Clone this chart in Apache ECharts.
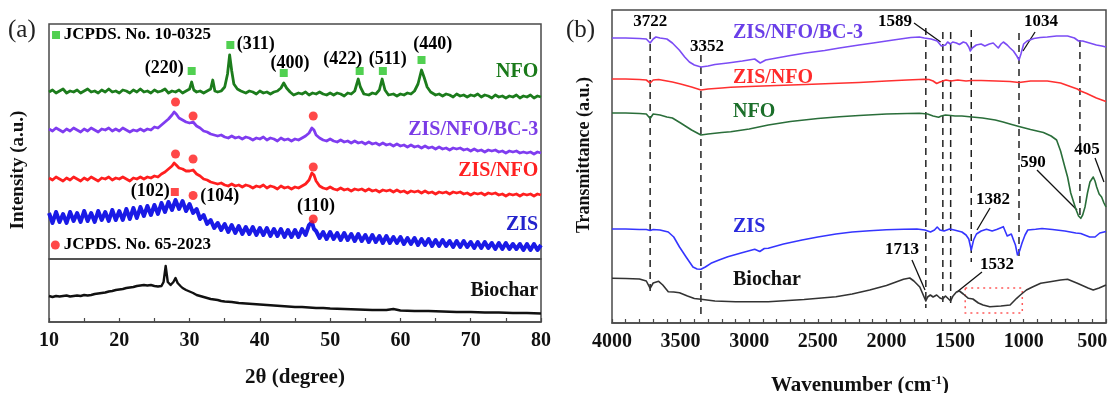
<!DOCTYPE html>
<html><head><meta charset="utf-8">
<script src="https://cdn.jsdelivr.net/npm/echarts@6/dist/echarts.min.js"></script>
<style>html,body{margin:0;padding:0;background:#fff}#c{width:1110px;height:393px}</style>
</head><body><div id="c"></div>
<script>
// ---------- Panel (a): XRD (2θ, intensity a.u.) ----------
const xrdNFO = [[10,167],[10.5,169],[11,166],[11.5,168],[12,170],[12.5,166],[13,168],[13.5,167],[14,169],[14.5,166],[15,168],[15.5,170],[16,167],[16.5,168],[17,166],[17.5,169],[18,167],[18.5,170],[19,167],[19.5,168],[20,166],[20.5,169],[21,168],[21.5,166],[22,169],[22.5,167],[23,170],[23.5,167],[24,168],[24.5,166],[25,169],[25.5,167],[26,168],[26.5,170],[27,166],[27.5,168],[28,167],[28.5,169],[29,166],[29.5,168],[30,170],[30.3,177],[30.6,169],[31,167],[31.5,168],[32,166],[32.5,168],[33,170],[33.3,179],[33.6,168],[34,167],[34.5,168],[35,172],[35.4,185],[35.7,204],[36,188],[36.3,175],[36.8,170],[37.3,168],[38,166],[38.5,168],[39,167],[39.5,165],[40,168],[40.5,166],[41,167],[41.5,165],[42,167],[42.5,168],[43,171],[43.4,176],[43.8,171],[44.3,167],[44.8,164],[45.5,166],[46,165],[46.5,167],[47,164],[47.5,166],[48,165],[48.5,167],[49,165],[49.5,164],[50,166],[50.5,164],[51,166],[51.5,165],[52,163],[52.5,166],[53,165],[53.5,168],[54,180],[54.3,172],[54.8,165],[55.5,164],[56,166],[56.5,165],[57,169],[57.4,180],[57.8,169],[58.3,164],[59,165],[59.5,163],[60,165],[60.5,164],[61,166],[61.5,165],[62,168],[62.5,175],[63,189],[63.4,181],[63.8,172],[64.3,167],[65,164],[65.5,165],[66,163],[66.5,165],[67,164],[67.5,162],[68,165],[68.5,163],[69,164],[69.5,162],[70,164],[70.5,163],[71,165],[71.5,162],[72,164],[72.5,163],[73,161],[73.5,164],[74,162],[74.5,163],[75,161],[75.5,163],[76,162],[76.5,164],[77,161],[77.5,163],[78,162],[78.5,164],[79,161],[79.5,163],[80,162]];
const xrdBC3 = [[10,130],[10.5,128],[11,131],[11.5,129],[12,127],[12.5,130],[13,128],[13.5,131],[14,129],[14.5,127],[15,130],[15.5,128],[16,131],[16.5,129],[17,127],[17.5,130],[18,129],[18.5,131],[19,128],[19.5,130],[20,128],[20.5,131],[21,129],[21.5,127],[22,129],[22.5,128],[23,130],[23.5,128],[24,130],[24.5,129],[25,132],[25.5,131],[26,134],[26.5,137],[27,140],[27.5,144],[27.8,147],[28.1,145],[28.5,141],[29,139],[29.5,137],[30,136],[30.5,137],[31,133],[31.5,131],[32,128],[32.5,127],[33,125],[33.5,124],[34,123],[34.5,124],[35,122],[35.5,121],[36,123],[36.5,121],[37,122],[37.5,120],[38,122],[38.5,121],[39,119],[39.5,121],[40,120],[40.5,122],[41,119],[41.5,121],[42,120],[42.5,118],[43,121],[43.5,119],[44,120],[44.5,118],[45,120],[45.5,119],[46,121],[46.5,123],[47,126],[47.4,131],[47.7,129],[48,124],[48.5,121],[49,119],[49.5,118],[50,120],[50.5,118],[51,117],[51.5,119],[52,117],[52.5,118],[53,116],[53.5,118],[54,116],[54.5,117],[55,115],[55.5,117],[56,115],[56.5,116],[57,114],[57.5,116],[58,114],[58.5,115],[59,113],[59.5,115],[60,113],[60.5,114],[61,112],[61.5,114],[62,112],[62.5,113],[63,111],[63.5,113],[64,111],[64.5,112],[65,110],[65.5,112],[66,110],[66.5,111],[67,109],[67.5,111],[68,110],[68.5,111],[69,109],[69.5,110],[70,108],[70.5,110],[71,108],[71.5,109],[72,107],[72.5,109],[73,108],[73.5,109],[74,107],[74.5,108],[75,106],[75.5,108],[76,107],[76.5,108],[77,106],[77.5,107],[78,106],[78.5,107],[79,105],[79.5,107],[80,106]];
const xrdZISNFO = [[10,81],[10.5,79],[11,82],[11.5,80],[12,78],[12.5,81],[13,79],[13.5,82],[14,80],[14.5,78],[15,81],[15.5,79],[16,82],[16.5,80],[17,78],[17.5,81],[18,80],[18.5,82],[19,79],[19.5,81],[20,80],[20.5,82],[21,80],[21.5,78],[22,81],[22.5,80],[23,82],[23.5,80],[24,82],[24.5,81],[25,83],[25.5,82],[26,85],[26.5,87],[27,90],[27.5,93],[27.8,96],[28.1,94],[28.5,91],[29,90],[29.5,88],[30,88],[30.5,89],[31,85],[31.5,83],[32,80],[32.5,79],[33,77],[33.5,76],[34,75],[34.5,76],[35,74],[35.5,73],[36,75],[36.5,73],[37,74],[37.5,72],[38,74],[38.5,73],[39,71],[39.5,73],[40,72],[40.5,74],[41,71],[41.5,73],[42,72],[42.5,70],[43,73],[43.5,71],[44,72],[44.5,70],[45,72],[45.5,71],[46,73],[46.5,75],[47,79],[47.4,86],[47.7,84],[48,78],[48.5,73],[49,71],[49.5,70],[50,72],[50.5,70],[51,69],[51.5,71],[52,69],[52.5,70],[53,68],[53.5,70],[54,69],[54.5,70],[55,68],[55.5,70],[56,68],[56.5,69],[57,67],[57.5,69],[58,68],[58.5,69],[59,67],[59.5,69],[60,67],[60.5,68],[61,66],[61.5,68],[62,67],[62.5,68],[63,66],[63.5,68],[64,66],[64.5,67],[65,65],[65.5,67],[66,66],[66.5,67],[67,65],[67.5,67],[68,66],[68.5,67],[69,65],[69.5,66],[70,64],[70.5,66],[71,65],[71.5,66],[72,64],[72.5,66],[73,65],[73.5,66],[74,64],[74.5,65],[75,63],[75.5,65],[76,64],[76.5,65],[77,63],[77.5,65],[78,64],[78.5,65],[79,63],[79.5,65],[80,64]];
const xrdZIS = [[10,46],[10.5,36],[11,47],[11.5,37],[12,45],[12.5,36],[13,47],[13.5,38],[14,46],[14.5,37],[15,48],[15.5,38],[16,46],[16.5,37],[17,48],[17.5,39],[18,47],[18.5,38],[19,49],[19.5,39],[20,48],[20.5,39],[21,50],[21.5,40],[22,51],[22.5,41],[23,52],[23.5,43],[24,53],[24.5,44],[25,54],[25.5,45],[26,56],[26.5,47],[27,57],[27.5,49],[28,59],[28.5,50],[29,58],[29.5,48],[30,55],[30.5,46],[31,50],[31.5,40],[32,44],[32.5,35],[33,39],[33.5,31],[34,36],[34.5,29],[35,35],[35.5,27],[36,34],[36.5,26],[37,33],[37.5,25],[38,32],[38.5,25],[39,32],[39.5,24],[40,31],[40.5,24],[41,31],[41.5,23],[42,30],[42.5,23],[43,30],[43.5,22],[44,29],[44.5,22],[45,29],[45.5,22],[46,30],[46.5,24],[47,34],[47.4,37],[47.7,30],[48,28],[48.5,21],[49,27],[49.5,20],[50,27],[50.5,20],[51,26],[51.5,19],[52,26],[52.5,19],[53,25],[53.5,18],[54,25],[54.5,18],[55,24],[55.5,17],[56,24],[56.5,17],[57,23],[57.5,16],[58,23],[58.5,16],[59,22],[59.5,16],[60,22],[60.5,15],[61,21],[61.5,15],[62,21],[62.5,14],[63,20],[63.5,14],[64,20],[64.5,13],[65,19],[65.5,13],[66,19],[66.5,13],[67,18],[67.5,12],[68,18],[68.5,12],[69,18],[69.5,12],[70,17],[70.5,11],[71,17],[71.5,11],[72,17],[72.5,11],[73,16],[73.5,10],[74,16],[74.5,10],[75,16],[75.5,10],[76,15],[76.5,10],[77,15],[77.5,9],[78,15],[78.5,9],[79,15],[79.5,9],[80,14]];
const xrdBiochar = [[10,26],[10.5,25],[11,26],[11.5,25.5],[12,26],[12.5,26.5],[13,25.5],[13.5,26],[14,26.5],[14.5,26],[15,27],[15.5,26.5],[16,27],[16.5,28],[17,28.5],[17.5,29],[18,29.5],[18.5,30.5],[19,31],[19.5,32],[20,32.5],[20.5,33],[21,34],[21.5,34.5],[22,35],[22.5,36],[23,36.5],[23.5,37],[24,36.5],[24.5,37],[25,36],[25.5,35.5],[26,36],[26.3,40],[26.6,56],[26.9,40],[27.3,37],[27.7,40],[28,44],[28.3,39],[28.7,36],[29,34],[29.5,32],[30,30.5],[30.5,29],[31,27],[31.5,26],[32,25],[32.5,24],[33,23],[33.5,22.5],[34,22],[34.5,21],[35,20.5],[36,20],[37,19],[38,18.5],[39,18],[40,17.5],[41,17],[42,16.5],[43,16],[44,15.5],[45,15],[46,15],[47,14.5],[48,14],[49,14],[50,13.5],[52,13],[54,12.5],[56,12],[58,12],[59,13],[60,11.5],[62,11],[64,11],[66,10.5],[68,10],[70,10],[72,9.5],[74,9.5],[76,9],[78,9],[80,8.5]];
// reference-pattern markers
const nfoRefPeaks = [[30.3,188],[35.8,214],[43.4,186],[54.2,188],[57.5,188],[63.0,199]];
const zisRefPeaksBC3 = [[28.0,157],[30.5,143],[47.6,143]];
const zisRefPeaksZN = [[28.0,105],[30.5,100],[47.6,92]];
const zisRefPeaksZIS = [[30.5,63.5],[47.6,40]];
const zisRefSquare = [[27.9,67]];
const nfoLegendMark = [[11.0,224]];
const zisLegendMark = [[10.9,14]];
const hklLabelsNFO = [['(220)',26.4,191],['(311)',39.4,215],['(400)',44.3,196],['(422)',51.8,199.5],['(511)',58.2,199.5],['(440)',64.6,215]];
const hklLabelsZIS = [['(102)',24.4,68],['(104)',34.3,63],['(110)',48.0,53]];
const jcpdsTexts = [['JCPDS. No. 10-0325',12.1,224],['JCPDS. No. 65-2023',12.1,14]];
const xTicksA = [10,20,30,40,50,60,70,80];

// ---------- Panel (b): FTIR (wavenumber, transmittance a.u.) ----------
const ftirBC3 = [[4000,285],[3900,285],[3800,284.5],[3750,284],[3722,280],[3700,284],[3680,286],[3650,285],[3600,284],[3560,280],[3510,273],[3470,266],[3436,261],[3400,258],[3352,256],[3300,257],[3250,258.5],[3156,260],[3050,262],[2960,264],[2920,260],[2880,263],[2800,265],[2700,267.5],[2589,270],[2450,272.5],[2343,275],[2200,278],[2097,280],[1950,283],[1822,285.5],[1760,286],[1724,285],[1675,284],[1630,282],[1600,277],[1589,275],[1570,278],[1554,281],[1535,279],[1517,281],[1490,280],[1468,278.5],[1440,281],[1419,280],[1400,276],[1389,272],[1375,275],[1345,278],[1310,279],[1283,277],[1250,279],[1222,280],[1200,277],[1185,275],[1165,279],[1148,281],[1120,278],[1099,275],[1075,272],[1050,267],[1034,263],[1020,269],[1000,279],[975,282],[926,284.5],[880,285.5],[828,286],[760,287],[680,287],[630,285],[600,282],[590,281],[570,282],[520,280],[470,278],[430,277],[400,276]];
const ftirZISNFO = [[4000,244],[3900,244],[3800,243.5],[3750,243],[3722,240],[3700,243],[3690,245],[3660,243.5],[3600,242],[3560,241],[3500,239],[3420,236],[3352,233],[3300,234],[3200,235],[3135,235.7],[3000,236.5],[2800,237.5],[2589,238.5],[2400,239.5],[2200,240.5],[2000,242],[1850,243],[1724,243.7],[1690,243.5],[1660,242],[1634,239.5],[1610,241],[1589,242],[1566,243],[1532,242],[1480,243],[1420,242],[1382,242.5],[1310,242.5],[1200,242],[1100,241.5],[1034,240.5],[950,242],[828,242],[731,240],[650,236],[609,234],[585,232],[540,229.5],[517,228],[470,225],[430,223],[400,221.5]];
const ftirNFO = [[4000,210],[3900,210],[3800,209.5],[3750,209],[3722,204.5],[3700,209],[3690,210],[3650,208],[3600,206],[3560,205],[3500,200],[3420,193],[3352,188],[3300,189],[3200,190.5],[3135,191.3],[3000,194],[2861,198],[2700,201.5],[2500,204.5],[2343,206.3],[2200,207.5],[2000,209],[1850,209.5],[1760,209.7],[1700,209],[1660,207],[1620,205.7],[1600,207],[1570,208],[1532,207.5],[1500,207],[1450,207],[1395,206.3],[1300,205],[1207,203],[1150,201],[1100,199],[1034,196.5],[950,193.5],[856,190.5],[800,187],[760,183],[731,172],[700,156],[680,146],[657,130],[620,114],[600,107],[584,104.7],[570,108],[553,116],[535,130],[517,141],[493,146],[480,142],[468,136],[450,129],[432,126],[415,120],[400,116]];
const ftirZIS = [[4000,94],[3900,94],[3800,93.5],[3750,93.5],[3722,92.5],[3700,93.5],[3650,93],[3590,91],[3550,86],[3508,76],[3460,66],[3410,56],[3380,54],[3352,53.7],[3320,56],[3279,59.7],[3220,63],[3156,66.3],[3060,70],[2960,73.7],[2923,71.5],[2890,74.5],[2861,74.7],[2750,79],[2615,83],[2500,86],[2368,89],[2250,91],[2122,92.3],[2000,93.3],[1876,93.7],[1778,94],[1720,93],[1679,91],[1650,93],[1630,96],[1610,93],[1580,92],[1540,94],[1506,93],[1450,91],[1420,88],[1400,84],[1382,73],[1365,83],[1344,89],[1310,92],[1271,93.7],[1230,92],[1197,93.5],[1170,95],[1148,96.3],[1120,87],[1090,89],[1074,83],[1060,78],[1045,68],[1030,72],[1012,80],[990,88],[970,93],[913,93.7],[866,94.5],[790,93.5],[700,92],[620,90],[584,89.5],[519,86],[480,86],[468,86.3],[445,90],[400,91.5]];
const ftirBiochar = [[4000,44.7],[3900,44.5],[3800,44],[3750,42],[3722,34.7],[3700,40],[3660,41.7],[3630,38],[3590,31.3],[3550,31],[3508,30.3],[3450,27],[3400,24.5],[3352,23.7],[3250,22],[3100,21.3],[2861,21.3],[2600,23.5],[2368,26.3],[2250,29],[2122,33],[2000,37.5],[1876,43.7],[1830,45],[1800,42],[1757,36],[1735,29],[1713,22],[1700,26],[1680,28],[1660,26],[1634,28],[1610,25],[1590,24],[1570,27],[1556,29],[1532,22],[1515,27],[1490,31],[1468,32],[1440,29],[1403,24.7],[1370,24],[1330,20],[1296,18],[1247,16.3],[1166,17],[1099,18],[1051,24.7],[1024,28],[980,33],[932,36.3],[876,39.7],[807,41.3],[731,43],[680,43.7],[609,39.7],[531,35],[493,33],[450,35],[400,38]];
// band positions: [wavenumber, top value, bottom value]
const bandLines = [[3722,291,30],[3352,268,8],[1713,295,15],[1589,291,21],[1532,291,16],[1382,293,61],[1034,290,66],[590,283,103]];
const bandLabels = [['3722',3722,301],['3352',3308,276],['1589',1938,301],['1034',874,301],['590',932,160],['405',538,173],['1382',1223,123],['1532',1194,58],['1713',1887,73]];
const bandArrows = [[[1799,300],[1605,281]],[[917,291],[1005,272]],[[903,153],[611,113]],[[480,165],[415,141]],[[1245,115],[1340,93]],[[1304,51],[1486,31]],[[1814,63],[1719,33]]];
const highlightBox = [[1426,35],[1010,35],[1010,10],[1426,10],[1426,35]];
const xTicksB = [4000,3500,3000,2500,2000,1500,1000,500];

// ---------- build ----------
const FONT = '"Liberation Serif","Times New Roman",serif';
const chart = echarts.init(document.getElementById('c'));

function line(idx, data, color, width) {
  return {type:'line', xAxisIndex:idx, yAxisIndex:idx, data:data, showSymbol:false, symbol:'none',
    lineStyle:{color:color, width:width, join:'round'}, silent:true, z:3};
}
function texts(idx, items, color, size, align, weight) {
  return {type:'scatter', xAxisIndex:idx, yAxisIndex:idx, symbolSize:1, silent:true, z:6,
    itemStyle:{color:'rgba(0,0,0,0)'},
    data: items.map(d => ({name:d[0], value:[d[1], d[2]]})),
    label:{show:true, position:'inside', formatter:p=>p.name, align:align||'center', verticalAlign:'middle',
      color:color, fontSize:size, fontWeight:weight||'bold', fontFamily:FONT, opacity:1}};
}
function marks(idx, data, symbol, color, size) {
  return {type:'scatter', xAxisIndex:idx, yAxisIndex:idx, data:data, symbol:symbol, symbolSize:size,
    itemStyle:{color:color}, silent:true, z:5};
}
function segs(idx, list, style, sym) {
  return {type:'lines', coordinateSystem:'cartesian2d', xAxisIndex:idx, yAxisIndex:idx, silent:true, z:2,
    symbol: sym || ['none','none'], symbolSize:7, polyline:true,
    lineStyle: Object.assign({opacity:1}, style), data: list.map(c => ({coords:c}))};
}

const tickFmtA = v => xTicksA.indexOf(v) >= 0 ? String(v) : '';
const tickFmtB = v => xTicksB.indexOf(v) >= 0 ? String(v) : '';
const gridBase = {show:true, borderColor:'#4a4a4a', borderWidth:1.5, backgroundColor:'transparent', containLabel:false, outerBoundsMode:'none'};

const option = {
  animation:false,
  backgroundColor:'#fff',
  grid:[
    Object.assign({left:49, top:24, width:492, height:235}, gridBase),
    Object.assign({left:49, top:259, width:492, height:63}, gridBase),
    Object.assign({left:612, top:10, width:494, height:313}, gridBase)
  ],
  xAxis:[
    {type:'value', gridIndex:0, min:10, max:80, show:false},
    {type:'value', gridIndex:1, min:10, max:80, interval:5,
      axisLine:{show:true, lineStyle:{color:'#4a4a4a', width:1.5}},
      axisTick:{show:true, inside:true, length:4, lineStyle:{color:'#4a4a4a', width:1.2}},
      splitLine:{show:false},
      axisLabel:{formatter:tickFmtA, margin:9, color:'#111', fontSize:20, fontWeight:'bold', fontFamily:FONT}},
    {type:'value', gridIndex:2, min:400, max:4000, interval:100, inverse:true,
      axisLine:{show:true, lineStyle:{color:'#4a4a4a', width:1.5}},
      axisTick:{show:true, inside:true, length:4, lineStyle:{color:'#4a4a4a', width:1.2}},
      splitLine:{show:false},
      axisLabel:{formatter:tickFmtB, margin:9, color:'#111', fontSize:20, fontWeight:'bold', fontFamily:FONT, showMinLabel:true, showMaxLabel:true}}
  ],
  yAxis:[
    {type:'value', gridIndex:0, min:0, max:235, show:false},
    {type:'value', gridIndex:1, min:0, max:63, show:false},
    {type:'value', gridIndex:2, min:0, max:313, show:false}
  ],
  graphic:[
    {type:'text', left:8, top:18, style:{text:'(a)', fontSize:25, fontFamily:FONT, fill:'#222'}},
    {type:'text', left:566, top:18, style:{text:'(b)', fontSize:25, fontFamily:FONT, fill:'#222'}},
    {type:'text', x:18, y:170, rotation:Math.PI/2, style:{text:'Intensity (a.u.)', fontSize:19, fontWeight:'bold', fontFamily:FONT, fill:'#111', textAlign:'center', textVerticalAlign:'middle'}},
    {type:'text', x:584, y:155, rotation:Math.PI/2, style:{text:'Transmittance (a.u.)', fontSize:18, fontWeight:'bold', fontFamily:FONT, fill:'#111', textAlign:'center', textVerticalAlign:'middle'}},
    {type:'text', x:295, y:378, style:{text:'2θ (degree)', fontSize:21, fontWeight:'bold', fontFamily:FONT, fill:'#111', textAlign:'center', textVerticalAlign:'middle'}},
    {type:'text', x:860, y:386, style:{text:'{a|Wavenumber (cm}{s|-1}{a|)}', textAlign:'center', textVerticalAlign:'middle',
      rich:{a:{fontSize:21, fontWeight:'bold', fontFamily:FONT, fill:'#111'}, s:{fontSize:13, fontWeight:'bold', fontFamily:FONT, fill:'#111', verticalAlign:'top', padding:[0,0,10,0]}}}}
  ],
  series:[
    // panel (a)
    line(0, xrdNFO, '#1c7c1c', 2.8),
    line(0, xrdBC3, '#7f3cf0', 2.8),
    line(0, xrdZISNFO, '#ff1f1f', 2.8),
    line(0, xrdZIS, '#1a1ae6', 4),
    line(1, xrdBiochar, '#111', 2.4),
    marks(0, nfoRefPeaks, 'rect', '#25c425', 8),
    marks(0, nfoLegendMark, 'rect', '#25c425', 8),
    marks(0, zisRefPeaksBC3, 'circle', '#ff1a1a', 9),
    marks(0, zisRefPeaksZN, 'circle', '#ff1a1a', 9),
    marks(0, zisRefPeaksZIS, 'circle', '#ff1a1a', 9),
    marks(0, zisRefSquare, 'rect', '#ff1a1a', 8),
    marks(0, zisLegendMark, 'circle', '#ff1a1a', 9),
    texts(0, hklLabelsNFO, '#000', 18),
    texts(0, hklLabelsZIS, '#000', 18),
    texts(0, jcpdsTexts, '#000', 17, 'left'),
    texts(0, [['NFO',79.6,187]], '#1a7a1a', 20, 'right'),
    texts(0, [['ZIS/NFO/BC-3',79.6,129]], '#7a3ce6', 20, 'right'),
    texts(0, [['ZIS/NFO',79.6,88]], '#ff2020', 20, 'right'),
    texts(0, [['ZIS',79.6,34]], '#2323cc', 20, 'right'),
    texts(1, [['Biochar',79.6,31]], '#111', 20, 'right'),
    // panel (b)
    segs(2, bandLines.map(b => [[b[0], b[1]], [b[0], b[2]]]), {color:'#222', width:1.5, type:[7,5]}),
    segs(2, [highlightBox], {color:'#ff5a5a', width:1.5, type:[2,4]}),
    line(2, ftirBC3, '#7b4cf5', 1.6),
    line(2, ftirZISNFO, '#ff3030', 1.6),
    line(2, ftirNFO, '#2a6e3a', 1.6),
    line(2, ftirZIS, '#3535ff', 1.6),
    line(2, ftirBiochar, '#333', 1.6),
    segs(2, bandArrows, {color:'#111', width:1.3}, ['none','arrow']),
    texts(2, bandLabels, '#000', 17),
    texts(2, [['ZIS/NFO/BC-3',3118,290]], '#6a3fe8', 20, 'left'),
    texts(2, [['ZIS/NFO',3118,245]], '#ff2a2a', 20, 'left'),
    texts(2, [['NFO',3118,211]], '#1b6f2a', 20, 'left'),
    texts(2, [['ZIS',3118,96]], '#2b2bdd', 20, 'left'),
    texts(2, [['Biochar',3118,43]], '#111', 20, 'left')
  ]
};
chart.setOption(option);
</script></body></html>
